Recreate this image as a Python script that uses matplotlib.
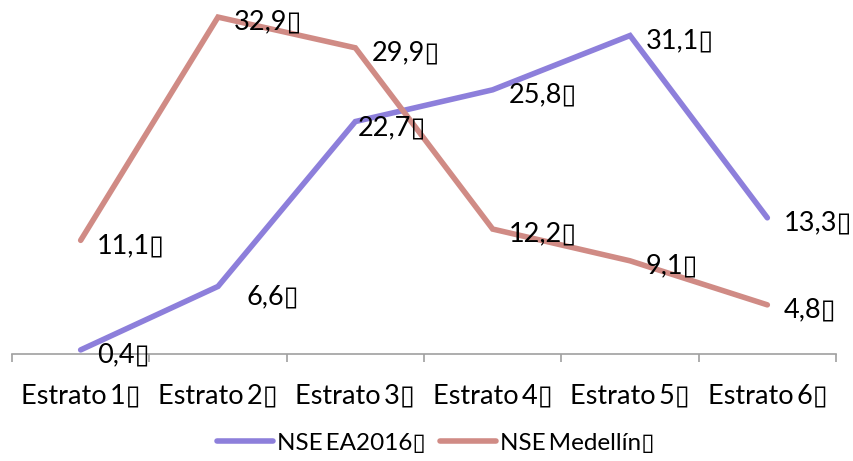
import matplotlib
matplotlib.use("Agg")
import matplotlib.pyplot as plt

BOX = "\u25af"
THIN = "\u2009"

categories = ["Estrato" + THIN + str(i) + BOX for i in range(1, 7)]
nse_ea2016 = [0.4, 6.6, 22.7, 25.8, 31.1, 13.3]
nse_medellin = [11.1, 32.9, 29.9, 12.2, 9.1, 4.8]
series_names = ["NSE" + THIN + "EA2016" + BOX, "NSE" + THIN + "Medellín" + BOX]

PURPLE = "#8d7fdb"
PINK = "#d08b85"
AXIS_GRAY = "#a0a0a0"


def fmt(v):
    return ("%.1f" % v).replace(".", ",") + BOX


def addLabels(ax, xs, values, offsets):
    for x, v in zip(xs, values):
        dx, dy = offsets.get(v, (16, -5))
        ax.annotate(fmt(v), (x, v), xytext=(dx, dy), textcoords="offset pixels",
                    ha="left", va="center", fontsize=19.5, zorder=5)


def main():
    plt.rcParams["font.family"] = ["Lato", "DejaVu Sans"]

    fig = plt.figure(figsize=(8.54, 4.61), dpi=100)
    ax = fig.add_axes([12 / 854, 107 / 461, 824 / 854, 354 / 461])

    xs = list(range(len(categories)))
    ax.plot(xs, nse_ea2016, color=PURPLE, lw=4, solid_capstyle="round",
            solid_joinstyle="miter", label=series_names[0])
    ax.plot(xs, nse_medellin, color=PINK, lw=4, solid_capstyle="round",
            solid_joinstyle="miter", label=series_names[1])

    addLabels(ax, xs, nse_ea2016, {6.6: (29, -10), 22.7: (2, -6)})
    addLabels(ax, xs, nse_medellin, {})

    ax.set_xlim(-0.5, len(categories) - 0.5)
    ax.set_ylim(0, 34.57)

    for side in ["top", "right", "left"]:
        ax.spines[side].set_visible(False)
    ax.spines["bottom"].set_color(AXIS_GRAY)
    ax.spines["bottom"].set_linewidth(1.2)

    # boundary ticks between categories, labels sit at the centres
    ax.set_xticks([i - 0.5 for i in range(len(categories) + 1)])
    ax.set_xticklabels([])
    ax.set_xticks(xs, minor=True)
    ax.set_xticklabels(categories, minor=True, fontsize=19.5)
    ax.tick_params(axis="x", which="major", length=6, width=1.2, color=AXIS_GRAY)
    ax.tick_params(axis="x", which="minor", length=0, pad=21)
    ax.set_yticks([])

    fig.legend(loc="center", bbox_to_anchor=(0.51, 0.038), ncol=2, frameon=False,
               fontsize=17.5, handlelength=2.3, handletextpad=0.15,
               columnspacing=0.6)

    fig.savefig("out.png", dpi=100)


if __name__ == "__main__":
    main()
